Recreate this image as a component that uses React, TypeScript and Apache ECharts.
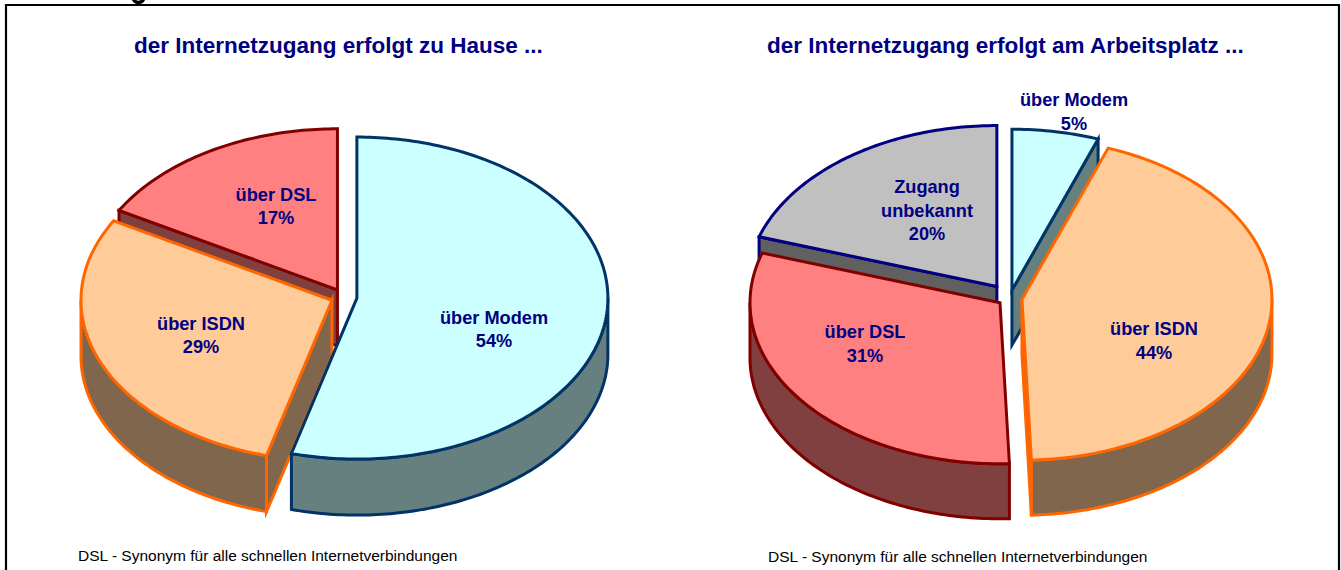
import React, { useEffect, useRef } from "react";
import * as echarts from "echarts";

const homeTitle = "der Internetzugang erfolgt zu Hause ...";
const workTitle = "der Internetzugang erfolgt am Arbeitsplatz ...";
const footnote = "DSL - Synonym für alle schnellen Internetverbindungen";

const homeNames = ["über Modem", "über ISDN", "über DSL"];
const homeValues = [54.2, 29, 16.8];
const homeLabels = ["54%", "29%", "17%"];

const workNames = ["über Modem", "über ISDN", "über DSL", "Zugang\nunbekannt"];
const workValues = [5.6, 43.8, 30.6, 20];
const workLabels = ["5%", "44%", "31%", "20%"];

const NAVY = "#000080";
const STYLES: Record<string, { fill: string; stroke: string; side: string }> = {
  "über Modem": { fill: "#CCFFFF", stroke: "#003366", side: "#668080" },
  "über ISDN": { fill: "#FFCC99", stroke: "#FF6600", side: "#80664D" },
  "über DSL": { fill: "#FF8080", stroke: "#800000", side: "#804040" },
  "Zugang\nunbekannt": { fill: "#C0C0C0", stroke: "#000080", side: "#606060" },
};

const homeLayout = {
  cx: 344, cy: 297, rx: 251, ry: 161, depth: 56,
  explode: [13, 13, 13],
  order: [2, 1, 0],
  labelPos: [[494, 329.5], [201, 335.5], [276, 206.5]],
};
const workLayout = {
  cx: 1009.8, cy: 298, rx: 250, ry: 161, depth: 55,
  explode: [12.3, 12.3, 12.3, 22],
  order: [3, 0, 2, 1],
  labelPos: [[1074, 112], [1154, 341], [865, 344], [927, 210.5]],
};

const LINE_W = 3;
const DEG = Math.PI / 180;

function pieSeries(names: string[], values: number[], labels: string[], L: any) {
  const total = values.reduce((a, b) => a + b, 0);
  let acc = 0;
  const angles = values.map((v) => {
    const a = [(acc / total) * 360, ((acc + v) / total) * 360];
    acc += v;
    return a;
  });
  return {
    type: "custom",
    coordinateSystem: "none",
    silent: true,
    data: L.order.map((i: number) => [values[i], i]),
    renderItem: (_p: any, api: any) => {
      const i = api.value(1) as number;
      const [a0, a1] = angles[i];
      const mid = ((a0 + a1) / 2) * DEG;
      const k = L.explode[i] / L.rx;
      const ax = L.cx + Math.sin(mid) * L.rx * k;
      const ay = L.cy - Math.cos(mid) * L.ry * k;
      const pt = (deg: number, dy = 0) => [
        ax + Math.sin(deg * DEG) * L.rx,
        ay - Math.cos(deg * DEG) * L.ry + dy,
      ];
      const arc = (from: number, to: number, dy = 0) => {
        const n = Math.max(2, Math.ceil(Math.abs(to - from)));
        const out: number[][] = [];
        for (let j = 0; j <= n; j++) out.push(pt(from + ((to - from) * j) / n, dy));
        return out;
      };
      const s = STYLES[names[i]];
      const st = (fill: string) => ({
        fill,
        stroke: s.stroke,
        lineWidth: LINE_W,
        lineJoin: "miter",
        miterLimit: 6,
      });
      const children: any[] = [];
      const wall = (deg: number) => ({
        type: "polygon",
        shape: {
          points: [[ax, ay], pt(deg), pt(deg, L.depth), [ax, ay + L.depth]],
        },
        style: st(s.side),
      });
      // walls of the cut faces that turn towards the viewer
      if (Math.sin(a1 * DEG) > 1e-6) children.push(wall(a1));
      if (Math.sin(a0 * DEG) < -1e-6) children.push(wall(a0));
      // outer rim on the front half of the disc
      const r0 = Math.max(a0, 90);
      const r1 = Math.min(a1, 270);
      if (r1 > r0) {
        children.push({
          type: "polygon",
          shape: { points: [...arc(r0, r1), ...arc(r1, r0, L.depth)] },
          style: st(s.side),
        });
      }
      // top face
      children.push({
        type: "polygon",
        shape: { points: [[ax, ay], ...arc(a0, a1)] },
        style: st(s.fill),
      });
      children.push({
        type: "text",
        z2: 10,
        style: {
          x: L.labelPos[i][0],
          y: L.labelPos[i][1],
          text: `${names[i]}\n${labels[i]}`,
          align: "center",
          verticalAlign: "middle",
          fill: NAVY,
          font: "bold 18.2px 'Liberation Sans'",
          lineHeight: 23.5,
        },
      });
      return { type: "group", children };
    },
  };
}

export default function App() {
  const ref = useRef<HTMLDivElement>(null);
  useEffect(() => {
    document.body.style.margin = "0";
    const chart = echarts.init(ref.current!, null, { renderer: "svg" });
    const titleStyle = {
      color: NAVY,
      fontFamily: "Liberation Sans",
      fontWeight: "bold" as const,
      fontSize: 22.5,
    };
    const noteStyle = { color: "#000000", fontFamily: "Liberation Sans", fontSize: 15.5, fontWeight: "normal" as const };
    chart.setOption({
      animation: false,
      backgroundColor: "#ffffff",
      title: [
        { text: homeTitle, left: 134, top: 34, padding: 0, textStyle: titleStyle },
        { text: workTitle, left: 767, top: 34, padding: 0, textStyle: titleStyle },
        { text: footnote, left: 78, top: 547, padding: 0, textStyle: noteStyle },
        { text: footnote, left: 768, top: 548, padding: 0, textStyle: noteStyle },
      ],
      graphic: [
        {
          type: "arc",
          z: 99,
          shape: { cx: 138.5, cy: -3, r: 5.5, startAngle: 0, endAngle: Math.PI, clockwise: true },
          style: { stroke: "#000000", lineWidth: 3.5, fill: "none" },
        },
        {
          type: "polyline",
          z: 100,
          shape: { points: [[6, 570], [6, 5], [1339, 5], [1339, 570]] },
          style: { stroke: "#000000", lineWidth: 2.2, fill: "none" },
        },
      ],
      series: [
        pieSeries(homeNames, homeValues, homeLabels, homeLayout),
        pieSeries(workNames, workValues, workLabels, workLayout),
      ],
    });
    return () => chart.dispose();
  }, []);
  return <div ref={ref} style={{ width: 1341, height: 570 }} />;
}
